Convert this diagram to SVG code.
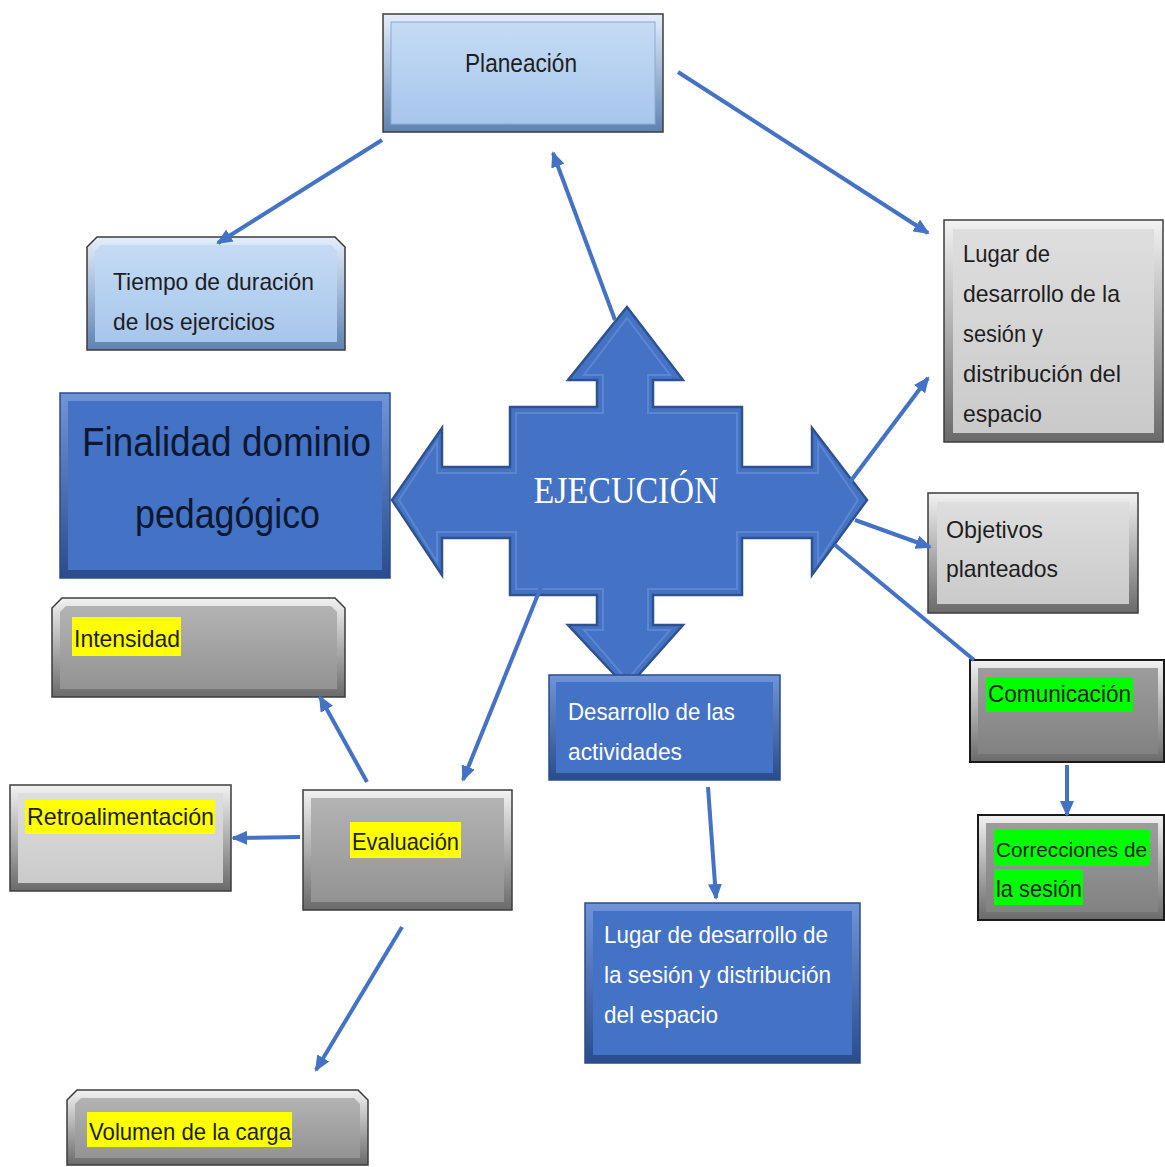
<svg xmlns="http://www.w3.org/2000/svg" width="1165" height="1167" viewBox="0 0 1165 1167">
<defs>
<linearGradient id="lbEdge" x1="0" y1="0" x2="0" y2="1"><stop offset="0" stop-color="#e3eefa"/><stop offset="1" stop-color="#5f82b2"/></linearGradient>
<linearGradient id="lbFace" x1="0" y1="0" x2="0" y2="1"><stop offset="0" stop-color="#c4dbf4"/><stop offset="1" stop-color="#a7c6ec"/></linearGradient>
<linearGradient id="gEdge" x1="0" y1="0" x2="0" y2="1"><stop offset="0" stop-color="#f2f2f2"/><stop offset="1" stop-color="#6a6a6a"/></linearGradient>
<linearGradient id="gLight" x1="0" y1="0" x2="0" y2="1"><stop offset="0" stop-color="#dedede"/><stop offset="1" stop-color="#cacaca"/></linearGradient>
<linearGradient id="gMid" x1="0" y1="0" x2="0" y2="1"><stop offset="0" stop-color="#b3b3b3"/><stop offset="1" stop-color="#939393"/></linearGradient>
<linearGradient id="gDark" x1="0" y1="0" x2="0" y2="1"><stop offset="0" stop-color="#9c9c9c"/><stop offset="1" stop-color="#828282"/></linearGradient>
<linearGradient id="bEdge" x1="0" y1="0" x2="0" y2="1"><stop offset="0" stop-color="#6f95d8"/><stop offset="1" stop-color="#2a4c8c"/></linearGradient>
<marker id="ah" markerWidth="16" markerHeight="14" refX="14" refY="7" orient="auto" markerUnits="userSpaceOnUse"><path d="M0,0 L16,7 L0,14 Z" fill="#4472c4"/></marker>
<style>
.t{font-family:"Liberation Sans",Arial,sans-serif;font-size:24px;fill:#1e1e1e}
.big{font-size:40px;fill:#0d1830}
.mid{font-size:26px}
.sm{font-size:21px}
.w{fill:#ffffff}
.yl{fill:#ffff00}
.gr{fill:#00ff00}
.edge{stroke:#3c3c3c;stroke-width:1.5}
.conn{stroke:#4472c4;stroke-width:4;fill:none}
</style>
</defs>
<rect width="1165" height="1167" fill="#ffffff"/>

<g id="ejecucion">
<polygon points="627,307 683,380 653,380 653,407 742,407 742,467 812,467 812,428 867,500 812,575 812,538 742,538 742,595 653,595 653,625 683,625 627,688 568,625 597,625 597,595 510,595 510,538 442,538 442,575 392,500 442,428 442,467 510,467 510,407 597,407 597,380 568,380" fill="#4472c4" stroke="#2f528f" stroke-width="2.5"/>
<polygon points="627,318 670,375 648,375 648,413 737,413 737,473 818,473 818,442 858,500 818,562 818,532 737,532 737,589 648,589 648,630 670,630 627,680 584,630 603,630 603,589 516,589 516,532 437,532 437,562 399,500 437,442 437,473 516,473 516,413 603,413 603,375 584,375" fill="none" stroke="#5b86d2" stroke-width="2"/>
<text x="626" y="503" text-anchor="middle" font-family="Liberation Serif,serif" font-size="38" fill="#ffffff" textLength="185" lengthAdjust="spacingAndGlyphs">EJECUCIÓN</text>
</g>

<g id="planeacion">
<rect x="383" y="14" width="280" height="118" fill="url(#lbEdge)" class="edge"/>
<rect x="391" y="22" width="264" height="102" fill="url(#lbFace)" stroke="#8eaad0" stroke-width="1"/>
<text class="t mid" x="465" y="72" textLength="112" lengthAdjust="spacingAndGlyphs">Planeación</text>
</g>

<g id="tiempo">
<polygon points="97,237 335,237 345,247 345,350 87,350 87,247" fill="url(#lbEdge)" class="edge"/>
<polygon points="101,245 331,245 337,251 337,342 95,342 95,251" fill="url(#lbFace)"/>
<text class="t" x="113" y="290" textLength="201" lengthAdjust="spacingAndGlyphs">Tiempo de duración</text>
<text class="t" x="113" y="330" textLength="162" lengthAdjust="spacingAndGlyphs">de los ejercicios</text>
</g>

<g id="lugar-der">
<rect x="944" y="220" width="219" height="222" fill="url(#gEdge)" class="edge"/>
<rect x="953" y="229" width="201" height="204" fill="url(#gLight)"/>
<text class="t" x="963" y="262" textLength="87" lengthAdjust="spacingAndGlyphs">Lugar de</text>
<text class="t" x="963" y="302" textLength="157" lengthAdjust="spacingAndGlyphs">desarrollo de la</text>
<text class="t" x="963" y="342" textLength="80" lengthAdjust="spacingAndGlyphs">sesión y</text>
<text class="t" x="963" y="382" textLength="158" lengthAdjust="spacingAndGlyphs">distribución del</text>
<text class="t" x="963" y="422" textLength="79" lengthAdjust="spacingAndGlyphs">espacio</text>
</g>

<g id="finalidad">
<rect x="60" y="393" width="330" height="185" fill="url(#bEdge)" stroke="#2a4c8c" stroke-width="1.5"/>
<rect x="68" y="401" width="314" height="169" fill="#4472c4"/>
<text class="t big" x="82" y="456" textLength="289" lengthAdjust="spacingAndGlyphs">Finalidad dominio</text>
<text class="t big" x="135" y="528" textLength="185" lengthAdjust="spacingAndGlyphs">pedagógico</text>
</g>

<g id="objetivos">
<rect x="928" y="493" width="210" height="120" fill="url(#gEdge)" class="edge"/>
<rect x="937" y="502" width="192" height="102" fill="url(#gLight)"/>
<text class="t" x="946" y="538" textLength="97" lengthAdjust="spacingAndGlyphs">Objetivos</text>
<text class="t" x="946" y="577" textLength="112" lengthAdjust="spacingAndGlyphs">planteados</text>
</g>

<g id="comunicacion">
<rect x="970" y="660" width="194" height="102" fill="url(#gEdge)" stroke="#1a1a1a" stroke-width="2"/>
<rect x="978" y="668" width="180" height="86" fill="url(#gDark)"/>
<rect x="986" y="677" width="147" height="35" class="gr"/>
<text class="t" x="988" y="702" textLength="143" lengthAdjust="spacingAndGlyphs">Comunicación</text>
</g>

<g id="correcciones">
<rect x="978" y="815" width="186" height="105" fill="url(#gEdge)" stroke="#1a1a1a" stroke-width="2"/>
<rect x="986" y="823" width="172" height="89" fill="url(#gDark)"/>
<rect x="994" y="830" width="156" height="36" class="gr"/>
<rect x="994" y="869" width="89" height="36" class="gr"/>
<text class="t sm" x="996" y="857" textLength="151" lengthAdjust="spacingAndGlyphs">Correcciones de</text>
<text class="t" x="996" y="897" textLength="86" lengthAdjust="spacingAndGlyphs">la sesión</text>
</g>

<g id="desarrollo">
<rect x="549" y="675" width="231" height="105" fill="url(#bEdge)" stroke="#2a4c8c" stroke-width="1.5"/>
<rect x="556" y="682" width="217" height="91" fill="#4472c4"/>
<text class="t w" x="568" y="720" textLength="167" lengthAdjust="spacingAndGlyphs">Desarrollo de las</text>
<text class="t w" x="568" y="760" textLength="114" lengthAdjust="spacingAndGlyphs">actividades</text>
</g>

<g id="lugar-abajo">
<rect x="585" y="903" width="275" height="160" fill="url(#bEdge)" stroke="#2a4c8c" stroke-width="1.5"/>
<rect x="593" y="911" width="259" height="144" fill="#4472c4"/>
<text class="t w" x="604" y="943" textLength="224" lengthAdjust="spacingAndGlyphs">Lugar de desarrollo de</text>
<text class="t w" x="604" y="983" textLength="227" lengthAdjust="spacingAndGlyphs">la sesión y distribución</text>
<text class="t w" x="604" y="1023" textLength="114" lengthAdjust="spacingAndGlyphs">del espacio</text>
</g>

<g id="intensidad">
<polygon points="62,598 335,598 345,608 345,697 52,697 52,608" fill="url(#gEdge)" class="edge"/>
<polygon points="66,606 331,606 337,612 337,689 60,689 60,612" fill="url(#gMid)"/>
<rect x="72" y="617" width="109" height="39" class="yl"/>
<text class="t" x="74" y="647" textLength="106" lengthAdjust="spacingAndGlyphs">Intensidad</text>
</g>

<g id="retroalimentacion">
<rect x="10" y="785" width="221" height="106" fill="url(#gEdge)" class="edge"/>
<rect x="18" y="793" width="205" height="90" fill="url(#gLight)"/>
<rect x="25" y="800" width="190" height="34" class="yl"/>
<text class="t" x="27" y="825" textLength="187" lengthAdjust="spacingAndGlyphs">Retroalimentación</text>
</g>

<g id="evaluacion">
<rect x="303" y="790" width="209" height="120" fill="url(#gEdge)" class="edge"/>
<rect x="311" y="798" width="193" height="104" fill="url(#gMid)"/>
<rect x="350" y="822" width="111" height="36" class="yl"/>
<text class="t" x="352" y="850" textLength="107" lengthAdjust="spacingAndGlyphs">Evaluación</text>
</g>

<g id="volumen">
<polygon points="77,1090 358,1090 368,1100 368,1165 67,1165 67,1100" fill="url(#gEdge)" class="edge"/>
<polygon points="81,1098 354,1098 360,1104 360,1158 75,1158 75,1104" fill="url(#gMid)"/>
<rect x="87" y="1112" width="205" height="35" class="yl"/>
<text class="t" x="89" y="1140" textLength="202" lengthAdjust="spacingAndGlyphs">Volumen de la carga</text>
</g>

<g id="connectors">
<line class="conn" x1="382" y1="140" x2="218" y2="243" marker-end="url(#ah)"/>
<line class="conn" x1="678" y1="72" x2="928" y2="233" marker-end="url(#ah)"/>
<line class="conn" x1="615" y1="320" x2="553" y2="153" marker-end="url(#ah)"/>
<line class="conn" x1="850" y1="482" x2="928" y2="378" marker-end="url(#ah)"/>
<line class="conn" x1="855" y1="520" x2="930" y2="547" marker-end="url(#ah)"/>
<line class="conn" x1="835" y1="545" x2="974" y2="660"/>
<line class="conn" x1="1067" y1="765" x2="1067" y2="815" marker-end="url(#ah)"/>
<line class="conn" x1="708" y1="787" x2="716" y2="898" marker-end="url(#ah)"/>
<line class="conn" x1="547" y1="572" x2="463" y2="780" marker-end="url(#ah)"/>
<line class="conn" x1="367" y1="782" x2="320" y2="697" marker-end="url(#ah)"/>
<line class="conn" x1="300" y1="837" x2="233" y2="838" marker-end="url(#ah)"/>
<line class="conn" x1="402" y1="927" x2="316" y2="1070" marker-end="url(#ah)"/>
</g>
</svg>
